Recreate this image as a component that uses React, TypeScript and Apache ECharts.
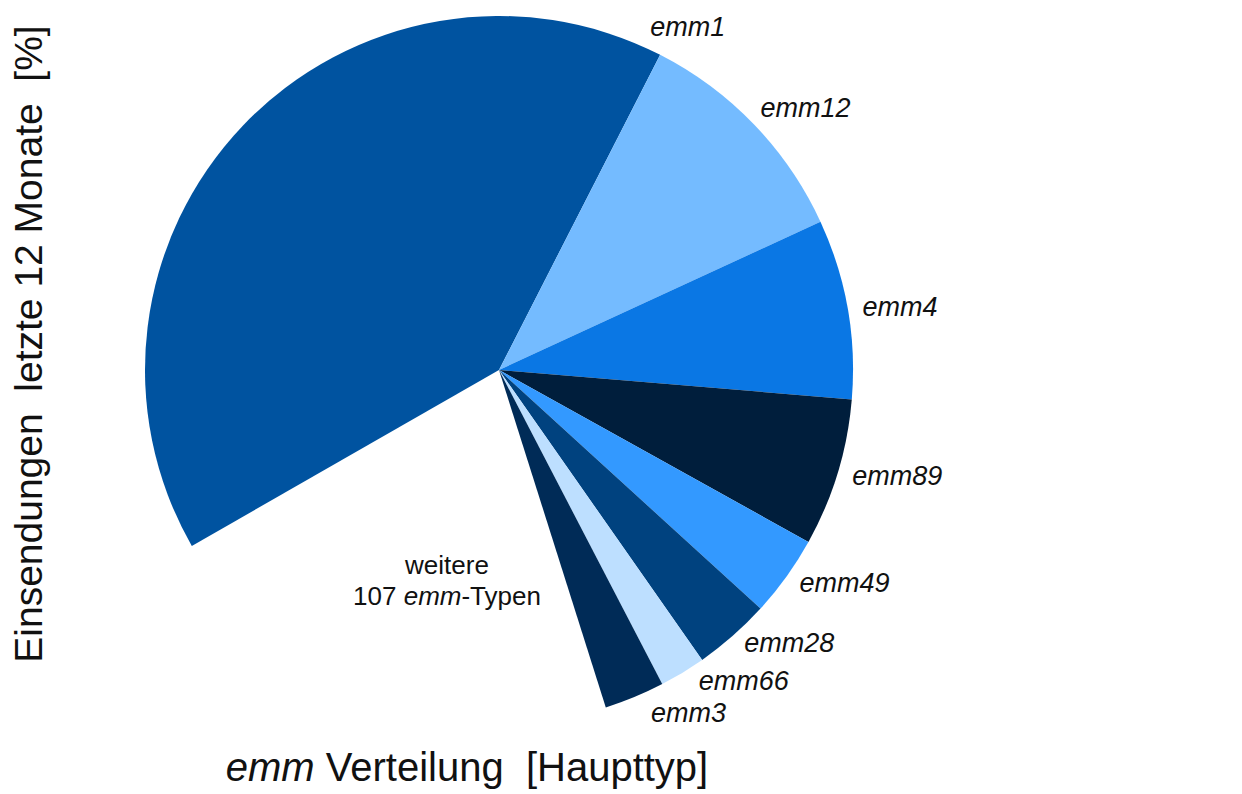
import React, { useEffect, useRef } from "react";
import * as echarts from "echarts";

const categories = ["emm1", "emm12", "emm4", "emm89", "emm49", "emm28", "emm66", "emm3", "weitere"];
const values = [40.8, 10.6, 8.2, 6.75, 3.7, 3.5, 2.1, 2.75, 21.6];
const colors = ["#0053A0", "#74BBFF", "#0A77E4", "#001E3C", "#3399FF", "#00427F", "#BDDFFF", "#002B57", "rgba(0,0,0,0)"];
const yTitle = "Einsendungen\u00A0\u00A0letzte 12\u00A0Monate\u00A0\u00A0[%]";
const othersLine1 = "weitere";
const othersCount = "107";

const START = 209.8;
const CX = 499;
const CY = 370;
const R = 354;
const FONT = "'Liberation Sans', Arial, Helvetica, sans-serif";

// per-label leader tweaks (length, length2) to mimic the original label placement
const labelLen = [10, 10, 10, 10, 10, 10, 10, 17, 10];
const labelLen2 = [0, 0, 0, 0, 0, 0, 6, 5, 0];

export default function App() {
  const ref = useRef<HTMLDivElement>(null);
  useEffect(() => {
    if (!ref.current) return;
    const chart = echarts.init(ref.current, null, { renderer: "svg" });
    const total = values.reduce((a, b) => a + b, 0);
    const option: any = {
      animation: false,
      backgroundColor: "#ffffff",
      series: [
        {
          type: "pie",
          center: [CX, CY],
          radius: [0, R],
          startAngle: START,
          clockwise: true,
          avoidLabelOverlap: false,
          silent: true,
          emphasis: { disabled: true },
          itemStyle: { borderWidth: 0 },
          label: {
            show: true,
            position: "outside",
            formatter: "{b}",
            fontFamily: FONT,
            fontStyle: "italic",
            fontSize: 27,
            color: "#111111",
            distanceToLabelLine: 5,
          },
          labelLine: { show: false, length: 10, length2: 0 },
          labelLayout: (p: any) => {
            if (p.dataIndex === 0) {
              const endAngle = START - (360 * values[0]) / total;
              const a = ((endAngle + 3.3) * Math.PI) / 180;
              return {
                x: CX + (R + 21) * Math.cos(a),
                y: CY - (R + 21) * Math.sin(a),
                align: "left",
                verticalAlign: "middle",
              };
            }
            if (p.dataIndex === 1) {
              const s = START - (360 * values[0]) / total;
              const e = s - (360 * values[1]) / total;
              const a = (((s + e) / 2 + 1.2) * Math.PI) / 180;
              return {
                x: CX + (R + 16) * Math.cos(a),
                y: CY - (R + 16) * Math.sin(a),
                align: "left",
                verticalAlign: "middle",
              };
            }
            return {};
          },
          data: categories.map((c, i) => ({
            name: c,
            value: values[i],
            itemStyle: { color: colors[i] },
            label: { show: i < categories.length - 1 },
            labelLine: { show: false, length: labelLen[i], length2: labelLen2[i] },
          })),
        },
      ],
      graphic: [
        {
          type: "text",
          x: 28,
          y: 344,
          rotation: Math.PI / 2,
          style: {
            text: yTitle,
            fontFamily: FONT,
            fontSize: 39,
            fill: "#111111",
            align: "center",
            verticalAlign: "middle",
          },
        },
        {
          type: "text",
          x: 467,
          y: 767,
          style: {
            text: "{i|emm}\u00A0Verteilung\u00A0\u00A0[Haupttyp]",
            fontFamily: FONT,
            fontSize: 40,
            fill: "#111111",
            align: "center",
            verticalAlign: "middle",
            rich: {
              i: { fontFamily: FONT, fontSize: 40, fontStyle: "italic", fill: "#111111" },
            },
          },
        },
        {
          type: "text",
          x: 447,
          y: 580,
          style: {
            text: othersLine1 + "\n" + othersCount + "\u00A0{i|emm}-Typen",
            fontFamily: FONT,
            fontSize: 26,
            lineHeight: 31,
            fill: "#111111",
            align: "center",
            verticalAlign: "middle",
            rich: {
              i: { fontFamily: FONT, fontSize: 26, lineHeight: 31, fontStyle: "italic", fill: "#111111" },
            },
          },
        },
      ],
    };
    chart.setOption(option);
    return () => chart.dispose();
  }, []);
  return (
    <div
      ref={ref}
      style={{ position: "fixed", left: 0, top: 0, width: 1242, height: 794, background: "#fff" }}
    />
  );
}
